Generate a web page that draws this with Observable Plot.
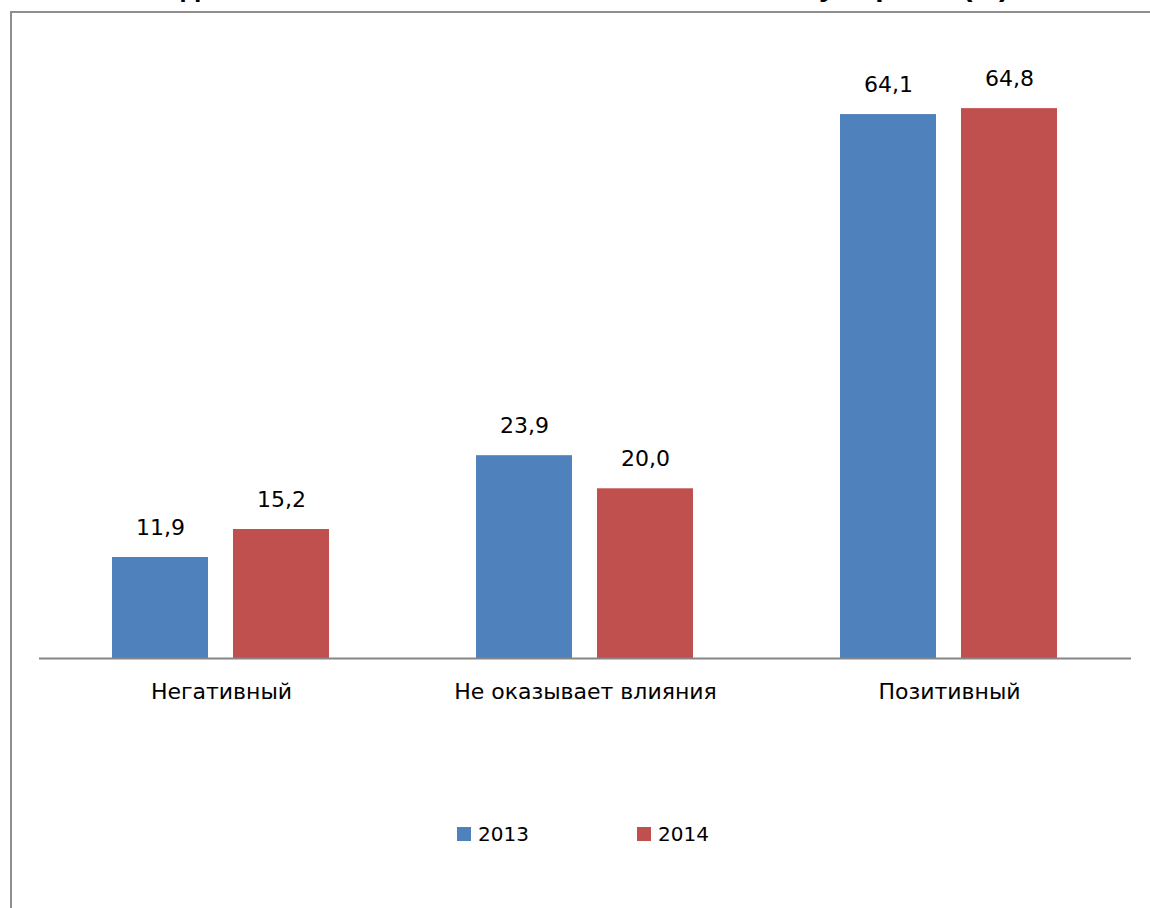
<!DOCTYPE html>
<html>
<head>
<meta charset="utf-8">
<script src="https://cdn.jsdelivr.net/npm/d3@7"></script>
<script src="https://cdn.jsdelivr.net/npm/@observablehq/plot@0.6"></script>
<style>
  ::-webkit-scrollbar { display: none; width: 0; height: 0; }
  html, body { margin: 0; padding: 0; background: #fff; overflow: hidden; scrollbar-width: none; }
  body { width: 1150px; height: 908px; position: relative; }
  #title { position: absolute; left: 0; top: -31px; width: 1150px; text-align: center; font: bold 30px "Liberation Sans", Arial, sans-serif; color: #000; white-space: nowrap; overflow: hidden; }
  #frame { position: absolute; left: 10px; top: 11px; right: 0; bottom: 0; border-left: 2px solid #8e8e8e; border-top: 2px solid #8e8e8e; background: #fff; }
  #chart { position: absolute; left: 0; top: 0; width: 1150px; height: 760px; }
  #chart svg { display: block; }
  #legend { position: absolute; top: 822px; left: 0; width: 1150px; height: 30px; font: 20px "DejaVu Sans", sans-serif; color: #000; }
  .item { position: absolute; display: flex; align-items: center; }
  .sw { width: 14px; height: 14px; margin-right: 7px; }
</style>
</head>
<body>
<div id="title">Видение влияния этого явления на экономику страны (%)</div>
<div id="frame"></div>
<div id="chart"></div>
<div id="legend"></div>
<script>
const categories = ["Негативный", "Не оказывает влияния", "Позитивный"];
const years = ["2013", "2014"];
const values2013 = [11.9, 23.9, 64.1];
const values2014 = [15.2, 20.0, 64.8];
const colors = ["#4F81BD", "#C0504D"];

const data = [];
categories.forEach((c, i) => {
  data.push({category: c, year: years[0], value: values2013[i]});
  data.push({category: c, year: years[1], value: values2014[i]});
});
const fmt = v => v.toFixed(1).replace(".", ",");

const chart = Plot.plot({
  width: 1150,
  height: 760,
  marginLeft: 38,
  marginRight: 18,
  marginTop: 64,
  marginBottom: 102,
  style: {background: "transparent", fontFamily: "'DejaVu Sans', sans-serif"},
  fx: {domain: categories, padding: 0, label: null},
  x: {domain: years, paddingInner: 0.205, paddingOuter: 0.597, axis: null},
  y: {domain: [0, 70], axis: null},
  color: {domain: years, range: colors},
  facet: {data, x: "category"},
  marks: [
    Plot.barY(data, {x: "year", y: "value", fill: "year"}),
    Plot.text(data, {x: "year", y: "value", text: d => fmt(d.value), dy: -30, fontSize: 22, fill: "#000"}),
    Plot.ruleY([0], {stroke: "#868686", strokeWidth: 2}),
    Plot.axisFx({anchor: "bottom", tickSize: 0, tickPadding: 25, fontSize: 22, fill: "#000", label: null, style: {letterSpacing: "1px"}})
  ]
});
document.getElementById("chart").appendChild(chart);

const legend = document.getElementById("legend");
const lx = [457, 637];
years.forEach((y, i) => {
  const it = document.createElement("div");
  it.className = "item";
  it.style.left = lx[i] + "px";
  it.innerHTML = `<span class="sw" style="background:${colors[i]}"></span><span>${y}</span>`;
  legend.appendChild(it);
});
</script>
</body>
</html>
